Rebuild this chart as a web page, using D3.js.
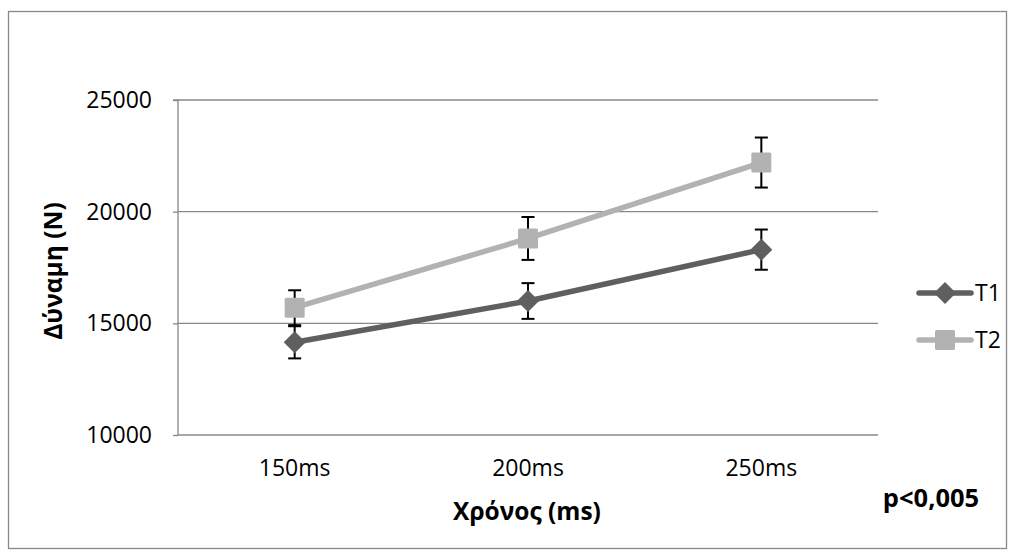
<!DOCTYPE html>
<html><head><meta charset="utf-8">
<script src="https://cdn.jsdelivr.net/npm/d3@7"></script>
<style>body{margin:0;background:#fff;}svg{display:block;font-family:"Open Sans",sans-serif;}</style>
</head><body><svg id="c" width="1015" height="556"></svg>
<script>
const categories = ["150ms","200ms","250ms"];
const seriesNames = ["T1","T2"];
const t1Values = [14150, 16000, 18300];
const t1Errors = [720, 800, 900];
const t2Values = [15700, 18800, 22200];
const t2Errors = [780, 960, 1120];
const yTicks = [10000, 15000, 20000, 25000];

const svg = d3.select("#c");
const m = {l:178, r:878, t:100, b:435};
const x = d3.scaleBand().domain(categories).range([m.l, m.r]);
const y = d3.scaleLinear().domain([10000, 25000]).range([m.b, m.t]);

svg.append("rect").attr("x",8.5).attr("y",11.5).attr("width",998).attr("height",537)
  .attr("fill","#fff").attr("stroke","#888").attr("stroke-width",1.3);

// gridlines
svg.append("g").selectAll("line").data(yTicks.filter(d=>d>10000)).join("line")
  .attr("x1",m.l).attr("x2",m.r).attr("y1",d=>y(d)).attr("y2",d=>y(d))
  .attr("stroke","#888").attr("stroke-width",1.3);

// y axis
const ya = svg.append("g").attr("transform",`translate(${m.l},0)`)
  .call(d3.axisLeft(y).tickValues(yTicks).tickSize(5).tickPadding(21).tickFormat(d3.format("d")));
ya.select(".domain").attr("stroke","#888").attr("stroke-width",1.3).attr("d",`M-5,${m.t}H0V${m.b}`);
ya.selectAll(".tick line").attr("stroke","#888").attr("stroke-width",1.3);
ya.selectAll("text").attr("font-size",23).attr("fill","#000").attr("font-family","Open Sans");

// x axis
const xa = svg.append("g").attr("transform",`translate(0,${m.b})`)
  .call(d3.axisBottom(x).tickSize(0).tickPadding(25));
xa.select(".domain").attr("stroke","#888").attr("stroke-width",1.3).attr("d",`M${m.l},0H${m.r}`);
xa.selectAll("text").attr("font-size",23).attr("fill","#000").attr("font-family","Open Sans");

// titles
svg.append("text").attr("x",527).attr("y",520).attr("text-anchor","middle")
  .attr("font-size",24.5).attr("font-weight","bold").text("Χρόνος (ms)");
svg.append("text").attr("transform","translate(62,271) rotate(-90)").attr("text-anchor","middle")
  .attr("font-size",24.5).attr("font-weight","bold").text("Δύναμη (N)");
svg.append("text").attr("x",931).attr("y",507).attr("text-anchor","middle")
  .attr("font-size",25.5).attr("font-weight","bold").text("p<0,005");

const cx = d => x(d) + x.bandwidth()/2;
const series = [
  {name:seriesNames[0], values:t1Values, errors:t1Errors, color:"#5f5f5f", shape:"diamond"},
  {name:seriesNames[1], values:t2Values, errors:t2Errors, color:"#b2b2b2", shape:"square"}
];
const line = d3.line().x((d,i)=>cx(categories[i])).y(d=>y(d));

function marker(g, shape, color){
  if(shape==="diamond"){
    g.append("path").attr("d","M0,-11L11,0L0,11L-11,0Z").attr("fill",color);
  } else {
    g.append("rect").attr("x",-10).attr("y",-10).attr("width",20).attr("height",20).attr("rx",1.5).attr("fill",color);
  }
}

[series[1], series[0]].forEach(s=>{
  svg.append("path").datum(s.values).attr("d",line).attr("fill","none")
    .attr("stroke",s.color).attr("stroke-width",5.5).attr("stroke-linejoin","round");
});
series.forEach(s=>{
  const g = svg.append("g");
  s.values.forEach((v,i)=>{
    const px = cx(categories[i]);
    const lo = y(v - s.errors[i]), hi = y(v + s.errors[i]);
    g.append("line").attr("x1",px).attr("x2",px).attr("y1",lo).attr("y2",hi).attr("stroke","#000").attr("stroke-width",2);
    [lo,hi].forEach(yy=>g.append("line").attr("x1",px-6.5).attr("x2",px+6.5).attr("y1",yy).attr("y2",yy).attr("stroke","#000").attr("stroke-width",2));
  });
});
series.forEach(s=>{
  s.values.forEach((v,i)=>{
    const g = svg.append("g").attr("transform",`translate(${cx(categories[i])},${y(v)})`);
    marker(g, s.shape, s.color);
  });
});

series.forEach((s,i)=>{
  const ly = 293 + i*47;
  svg.append("line").attr("x1",919).attr("x2",971).attr("y1",ly).attr("y2",ly)
    .attr("stroke",s.color).attr("stroke-width",5.5).attr("stroke-linecap","round");
  const g = svg.append("g").attr("transform",`translate(945,${ly})`);
  marker(g, s.shape, s.color);
  svg.append("text").attr("x",975).attr("y",ly+8).attr("font-size",23).text(s.name);
});
</script></body></html>
